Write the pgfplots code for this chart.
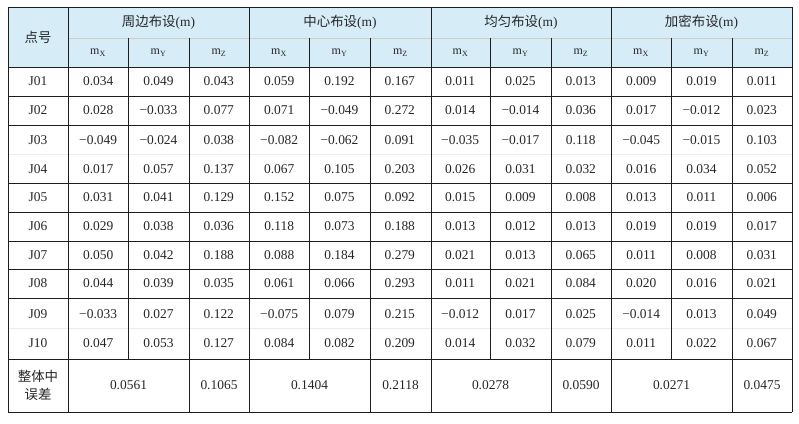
\documentclass[border=0pt]{standalone}
\usepackage{fontspec}
\setmainfont{Liberation Serif}
\newfontfamily\cjk{Noto Sans CJK SC}
\usepackage{pgfplots}
\pgfplotsset{compat=1.18}
\usepackage{pgfplotstable}
\definecolor{headblue}{RGB}{214,237,248}
\definecolor{gridline}{RGB}{30,30,30}

% rows: y position (px from top), point id, then mX mY mZ for each layout
\pgfplotstableread{
y lab c1 c2 c3 c4 c5 c6 c7 c8 c9 c10 c11 c12
81.5 J01 0.034 0.049 0.043 0.059 0.192 0.167 0.011 0.025 0.013 0.009 0.019 0.011
110.5 J02 0.028 −0.033 0.077 0.071 −0.049 0.272 0.014 −0.014 0.036 0.017 −0.012 0.023
140 J03 −0.049 −0.024 0.038 −0.082 −0.062 0.091 −0.035 −0.017 0.118 −0.045 −0.015 0.103
169 J04 0.017 0.057 0.137 0.067 0.105 0.203 0.026 0.031 0.032 0.016 0.034 0.052
197.5 J05 0.031 0.041 0.129 0.152 0.075 0.092 0.015 0.009 0.008 0.013 0.011 0.006
226.5 J06 0.029 0.038 0.036 0.118 0.073 0.188 0.013 0.012 0.013 0.019 0.019 0.017
255 J07 0.050 0.042 0.188 0.088 0.184 0.279 0.021 0.013 0.065 0.011 0.008 0.031
283.5 J08 0.044 0.039 0.035 0.061 0.066 0.293 0.011 0.021 0.084 0.020 0.016 0.021
314 J09 −0.033 0.027 0.122 −0.075 0.079 0.215 −0.012 0.017 0.025 −0.014 0.013 0.049
343 J10 0.047 0.053 0.127 0.084 0.082 0.209 0.014 0.032 0.079 0.011 0.022 0.067
}\vals

% overall RMS errors (merged cells)
\pgfplotstableread{
x y lab
128.5 385.5 0.0561
219 385.5 0.1065
309.5 385.5 0.1404
400.5 385.5 0.2118
490.5 385.5 0.0278
581 385.5 0.0590
671.5 385.5 0.0271
762 385.5 0.0475
}\totals

\begin{document}
\begin{tikzpicture}
\begin{axis}[
  scale only axis, width=799bp, height=424bp,
  xmin=0, xmax=799, ymin=0, ymax=424, y dir=reverse,
  hide axis, clip=false,
  cell/.style={only marks, mark=none, nodes near coords,
    point meta=explicit symbolic,
    every node near coord/.append style={anchor=center, inner sep=0pt,
      font=\fontsize{13.5}{15}\selectfont, text=black!85}},
]
\path (axis cs:0,0) rectangle (axis cs:799,424);
\fill[headblue] (axis cs:8,7) rectangle (axis cs:792,67);

% grid
\pgfplotsinvokeforeach{7,67,96,125,183,212,241,269,298,359,412}{
  \draw[gridline, line width=0.8pt] (axis cs:8,#1) -- (axis cs:792,#1);
}
\draw[gray!40, line width=0.5pt] (axis cs:68,38) -- (axis cs:792,38);
\draw[gray!15, line width=0.5pt] (axis cs:8,154) -- (axis cs:792,154);
\draw[gray!15, line width=0.5pt] (axis cs:8,328.5) -- (axis cs:792,328.5);
\pgfplotsinvokeforeach{8,68,249,431,611,792}{
  \draw[gridline, line width=0.8pt] (axis cs:#1,7) -- (axis cs:#1,412);
}
\pgfplotsinvokeforeach{128,309,490,671}{
  \draw[gridline, line width=0.8pt] (axis cs:#1,38) -- (axis cs:#1,359);
}
\pgfplotsinvokeforeach{189,370,551,732}{
  \draw[gridline, line width=0.8pt] (axis cs:#1,38) -- (axis cs:#1,412);
}

% header
\begin{scope}[every node/.style={anchor=center, inner sep=0pt,
    font=\fontsize{13.5}{15}\selectfont, text=black!85}]
\node at (axis cs:38,37) {\cjk 点号};
\node at (axis cs:158.5,22) {{\cjk 周边布设}(m)};
\node at (axis cs:340,22) {{\cjk 中心布设}(m)};
\node at (axis cs:521,22) {{\cjk 均匀布设}(m)};
\node at (axis cs:701.5,22) {{\cjk 加密布设}(m)};
\node[font=\fontsize{12}{14}\selectfont] at (axis cs:98,53) {m\textsubscript{X}};
\node[font=\fontsize{12}{14}\selectfont] at (axis cs:158.5,53) {m\textsubscript{Y}};
\node[font=\fontsize{12}{14}\selectfont] at (axis cs:219,53) {m\textsubscript{Z}};
\node[font=\fontsize{12}{14}\selectfont] at (axis cs:279,53) {m\textsubscript{X}};
\node[font=\fontsize{12}{14}\selectfont] at (axis cs:339.5,53) {m\textsubscript{Y}};
\node[font=\fontsize{12}{14}\selectfont] at (axis cs:400.5,53) {m\textsubscript{Z}};
\node[font=\fontsize{12}{14}\selectfont] at (axis cs:460.5,53) {m\textsubscript{X}};
\node[font=\fontsize{12}{14}\selectfont] at (axis cs:520.5,53) {m\textsubscript{Y}};
\node[font=\fontsize{12}{14}\selectfont] at (axis cs:581,53) {m\textsubscript{Z}};
\node[font=\fontsize{12}{14}\selectfont] at (axis cs:641,53) {m\textsubscript{X}};
\node[font=\fontsize{12}{14}\selectfont] at (axis cs:701.5,53) {m\textsubscript{Y}};
\node[font=\fontsize{12}{14}\selectfont] at (axis cs:762,53) {m\textsubscript{Z}};
\node[align=center, font=\cjk\fontsize{13.5}{18}\selectfont] at (axis cs:38,385.5) {整体中\\误差};
\end{scope}

% values
\addplot[cell] table[x expr=38, y=y, meta=lab] {\vals};
\pgfplotsinvokeforeach{1,...,12}{
  \addplot[cell] table[x expr={68+60.333*(#1-0.5)}, y=y, meta=c#1] {\vals};
}
\addplot[cell] table[x=x, y=y, meta=lab] {\totals};
\end{axis}
\end{tikzpicture}
\end{document}
